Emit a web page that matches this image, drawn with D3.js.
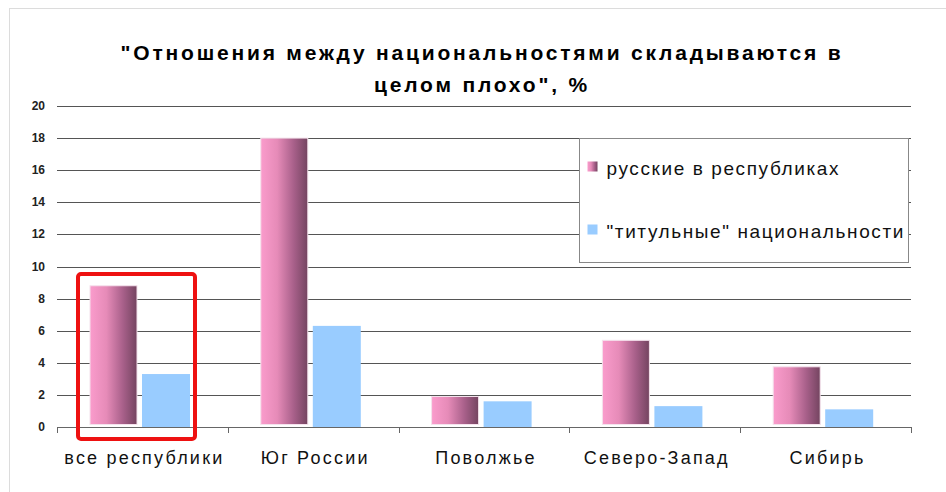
<!DOCTYPE html>
<html>
<head>
<meta charset="utf-8">
<script src="https://cdn.jsdelivr.net/npm/d3@7"></script>
<style>
body { margin:0; background:#fff; }
text { font-family: "Liberation Sans", Arial, sans-serif; }
</style>
</head>
<body>
<div class="plot"></div>
<script>
var regions = ["все республики", "Юг России", "Поволжье", "Северо-Запад", "Сибирь"];
var russians = [8.8, 18.0, 1.9, 5.4, 3.75];
var titular = [3.3, 6.3, 1.6, 1.3, 1.1];
var seriesNames = ["русские в республиках", "\"титульные\" национальности"];
var yTicks = [0, 2, 4, 6, 8, 10, 12, 14, 16, 18, 20];
var titleLines = ["\"Отношения между национальностями складываются в", "целом плохо\", %"];

var W = 946, H = 492;
var m = {t:106, r:35, b:65, l:57},
	w = W - m.l - m.r,
	h = H - m.t - m.b;

var svg = d3.select('.plot').append('svg')
	.attr('width', W).attr('height', H);

var defs = svg.append('defs');
var grad = defs.append('linearGradient').attr('id','pinkGrad')
	.attr('x1','0').attr('x2','1').attr('y1','0').attr('y2','0');
grad.append('stop').attr('offset','0%').attr('stop-color','#fa9ccc');
grad.append('stop').attr('offset','35%').attr('stop-color','#e68bb8');
grad.append('stop').attr('offset','70%').attr('stop-color','#a8608a');
grad.append('stop').attr('offset','100%').attr('stop-color','#744460');

// frame
svg.append('rect').attr('x',9.5).attr('y',8.5).attr('width',W+20).attr('height',H+20)
	.style('fill','none').style('stroke','#dcdcdc');

// title
svg.append('g').selectAll('text').data(titleLines).enter().append('text')
	.attr('x', 482).attr('y', function(d,i){ return 60 + i*32; })
	.attr('text-anchor','middle')
	.style('font-size','21px').style('font-weight','bold')
	.style('letter-spacing','2.8px')
	.text(function(d){ return d; });

var plot = svg.append('g').attr('transform','translate('+m.l+','+m.t+')');

var x = d3.scaleBand().domain(regions).range([0,w]);
var y = d3.scaleLinear().domain([0,20]).range([h,0]);

// gridlines
plot.selectAll('.grid').data(yTicks.slice(1)).enter().append('line')
	.attr('x1',0).attr('x2',w)
	.attr('y1',function(d){ return Math.round(y(d))+0.5; })
	.attr('y2',function(d){ return Math.round(y(d))+0.5; })
	.style('stroke','#555').style('stroke-width',1);

// y labels
plot.selectAll('.ylab').data(yTicks).enter().append('text')
	.attr('x',-12).attr('y',function(d){ return y(d)+4; })
	.attr('text-anchor','end')
	.style('font-size','12px').style('font-weight','bold').style('fill','#222')
	.text(function(d){ return d; });

// bars
var bw = 47, gap = 5, off = 33;
var g = plot.selectAll('.cat').data(regions).enter().append('g')
	.attr('transform',function(d){ return 'translate('+x(d)+',0)'; });

g.append('rect')
	.attr('x',off).attr('width',bw)
	.attr('y',function(d,i){ return y(russians[i]); })
	.attr('height',function(d,i){ return y(0)-y(russians[i]) - 2.5; })
	.style('fill','url(#pinkGrad)').style('stroke','#f4e2ec').style('stroke-width',1);

g.append('rect')
	.attr('x',off+bw+gap).attr('width',bw+1)
	.attr('y',function(d,i){ return y(titular[i]); })
	.attr('height',function(d,i){ return y(0)-y(titular[i]); })
	.style('fill','#99ccff');

// axis line
plot.append('line').attr('x1',0).attr('x2',w)
	.attr('y1',h+0.5).attr('y2',h+0.5).style('stroke','#666');
var bounds = regions.map(function(d){ return x(d); }).concat([w]);
plot.selectAll('.tk').data(bounds).enter().append('line')
	.attr('x1',function(d){ return Math.round(d)+0.5; })
	.attr('x2',function(d){ return Math.round(d)+0.5; })
	.attr('y1',h).attr('y2',h+6).style('stroke','#666');

// x labels
plot.selectAll('.xlab').data(regions).enter().append('text')
	.attr('x',function(d){ return x(d)+x.bandwidth()/2 + 2; })
	.attr('y',h+37)
	.attr('text-anchor','middle')
	.style('font-size','18px').style('fill','#111')
	.style('letter-spacing','2.2px')
	.text(function(d){ return d; });

// legend
var lg = svg.append('g').attr('transform','translate(579.5,138.5)');
lg.append('rect').attr('width',329).attr('height',124)
	.style('fill','#fff').style('stroke','#888');
var lgFill = ['url(#pinkGrad)','#99ccff'];
var item = lg.selectAll('.li').data(seriesNames).enter().append('g')
	.attr('transform',function(d,i){ return 'translate(8,'+(23+i*63)+')'; });
item.append('rect').attr('width',10).attr('height',10)
	.style('fill',function(d,i){ return lgFill[i]; });
item.append('text').attr('x',19).attr('y',13)
	.style('font-size','19px').style('fill','#111')
	.style('letter-spacing','1.6px')
	.text(function(d){ return d; });

// red highlight
svg.append('rect').attr('x',78).attr('y',274).attr('width',117).attr('height',165)
	.attr('rx',3)
	.style('fill','none').style('stroke','#ee1111').style('stroke-width',4);
</script>
</body>
</html>
